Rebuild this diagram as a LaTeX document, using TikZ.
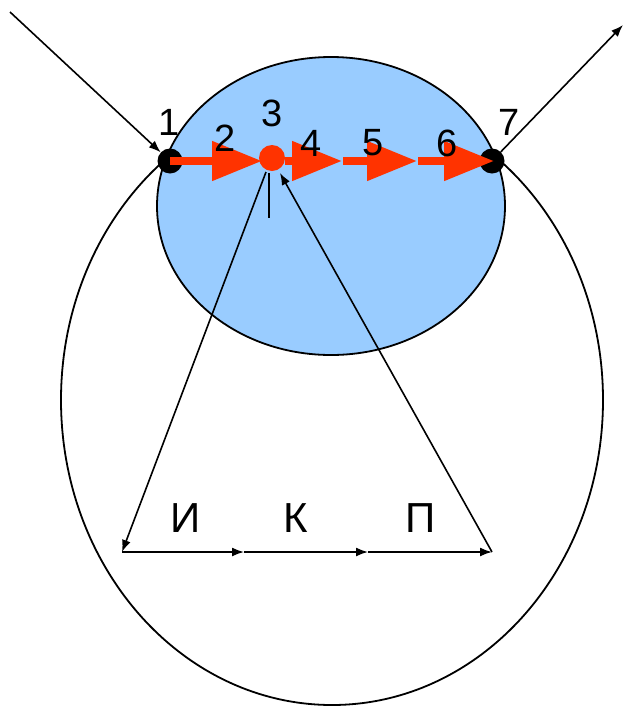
\documentclass[tikz,border=0pt]{standalone}
\usepackage{fontspec}
\setmainfont{Liberation Sans}
\usetikzlibrary{arrows.meta}
\definecolor{skyfill}{HTML}{99CCFF}
\definecolor{redarrow}{HTML}{FF3300}
\begin{document}
\begin{tikzpicture}[x=1pt,y=-1pt,
  outline/.style={line width=1.8pt, draw=black},
  blk/.style={-{Latex[length=12pt,width=9pt]}, line width=1.6pt},
  redarr/.style={draw=redarrow, line width=8pt, -{Triangle[length=50pt,width=38pt,fill=redarrow]}},
  dotb/.style={circle, fill=black, minimum size=25pt, inner sep=0pt},
  dotr/.style={circle, fill=redarrow, minimum size=26pt, inner sep=0pt},
  num/.style={font=\fontsize{38}{38}\selectfont, inner sep=0pt},
  lab/.style={font=\fontsize{42}{42}\selectfont, inner sep=0pt}]
\useasboundingbox (0,0) rectangle (625,710);
% big ellipse
\draw[outline] (332,400) ellipse [x radius=271pt, y radius=305pt];
% blue ellipse
\filldraw[outline, fill=skyfill] (331,206) ellipse [x radius=174pt, y radius=149pt];
% points
\node[dotb] (p1) at (170,161) {};
\node[dotb] (p7) at (492,161) {};
\coordinate (a2) at (262,161);
\coordinate (s4) at (285,161);
\coordinate (a4) at (342,161);
\coordinate (s5) at (343,161);
\coordinate (a5) at (417,161);
\coordinate (s6) at (418,161);
\coordinate (a6) at (494,161);
% red arrows
\draw[redarr] (p1.center) -- (a2);
\draw[redarr] (s4) -- (a4);
\draw[redarr] (s5) -- (a5);
\draw[redarr] (s6) -- (a6);
\node[dotr] (p3) at (272,158) {};
% in/out lines
\coordinate (inS) at (10,12);
\coordinate (outE) at (623,25);
\draw[blk] (inS) -- (p1);
\draw[blk] (p7) -- (outE);
% bottom axis
\coordinate (b0) at (122,552);
\coordinate (b1) at (244,552);
\coordinate (b2) at (368,552);
\coordinate (b3) at (492,552);
\draw[blk] (b0) -- (b1);
\draw[blk] (b1) -- (b2);
\draw[blk] (b2) -- (b3);
% triangle lines
\coordinate (t0) at (266,172);
\coordinate (t1) at (280,173);
\draw[blk] (t0) -- (b0);
\draw[blk] (b3) -- (t1);
% small tick
\coordinate (v0) at (269,173);
\coordinate (v1) at (269,218);
\draw[line width=1.6pt] (v0) -- (v1);
% labels
\node[num] (n1) at (169,122) {1};
\node[num] (n2) at (225,138) {2};
\node[num] (n3) at (272,113) {3};
\node[num] (n4) at (311,143) {4};
\node[num] (n5) at (373,143) {5};
\node[num] (n6) at (447,143) {6};
\node[num] (n7) at (509,122) {7};
\node[lab] (lI) at (186,518) {И};
\node[lab] (lK) at (296,518) {К};
\node[lab] (lP) at (421,518) {П};
\end{tikzpicture}
\end{document}
